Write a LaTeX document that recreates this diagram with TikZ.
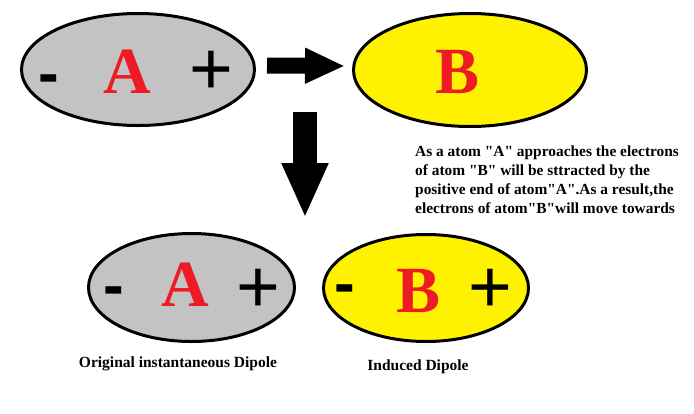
\documentclass[tikz,border=0pt]{standalone}
\usepackage{fontspec}
\setmainfont{Liberation Serif}
\newfontfamily\sansf{Liberation Sans}
\usetikzlibrary{shapes.geometric,arrows.meta}
\definecolor{atomgray}{RGB}{195,195,195}
\definecolor{atomyellow}{RGB}{255,242,0}
\definecolor{letterred}{RGB}{237,28,36}
\newcommand{\qq}{\textquotedbl}
\begin{document}
\begin{tikzpicture}[x=1pt,y=-1pt,
  atom/.style={ellipse, draw=black, line width=3pt, inner sep=0pt},
  letter/.style={anchor=base, inner sep=0pt, text=letterred, font=\fontsize{66}{66}\selectfont\bfseries},
  plussign/.style={anchor=base, inner sep=0pt, font=\sansf\fontsize{75}{75}\selectfont},
  minussign/.style={anchor=base, inner sep=0pt, font=\sansf\bfseries\fontsize{62}{62}\selectfont},
  captiontext/.style={anchor=base, inner sep=0pt, font=\fontsize{15.5}{19}\selectfont\bfseries},
  blockarrow/.style={line width=16pt, -{Triangle[width=33pt,length=40pt]}},
  downarrow/.style={line width=24pt, -{Triangle[width=43pt,length=55pt]}}
]
\useasboundingbox[fill=white] (0,0) rectangle (694,413);

% top row
\node[atom, fill=atomgray, minimum width=233pt, minimum height=112pt] (A1) at (138,69.5) {};
\node[atom, fill=atomyellow, minimum width=233pt, minimum height=113pt] (B1) at (470,70) {};
\node[minussign] (A1m) at (49,94) {-};
\node[letter] (A1l) at (127,93) {A};
\node[plussign] (A1p) at (211,94) {+};
\node[letter] (B1l) at (457.5,93) {B};

% arrows
\draw[blockarrow] ([xshift=11pt,yshift=4pt]A1.east) -- ([xshift=-7pt,yshift=4pt]B1.west);
\coordinate (d1) at (305,112);
\coordinate (d2) at (305,218);
\draw[downarrow] (d1) -- (d2);

% explanation
\node[anchor=north west, inner sep=0pt, align=left, font=\fontsize{15.4}{19}\selectfont\bfseries] (txt) at (415,145.5)
  {As a atom \qq A\qq{} approaches the electrons\\
   of atom \qq B\qq{} will be sttracted by the\\
   positive end of atom\qq A\qq.As a result,the\\
   electrons of atom\qq B\qq will move towards};

% bottom row
\node[atom, fill=atomgray, minimum width=206pt, minimum height=108pt] (A2) at (191.5,287.5) {};
\node[atom, fill=atomyellow, minimum width=205pt, minimum height=107pt] (B2) at (426,288) {};
\node[minussign] (A2m) at (114,306) {-};
\node[letter] (A2l) at (185.5,306) {A};
\node[plussign] (A2p) at (258.5,312) {+};
\node[minussign] (B2m) at (345,304) {-};
\node[letter] (B2l) at (418.5,312) {B};
\node[plussign] (B2p) at (490.5,312) {+};

\node[captiontext] (capA) at (178,367) {Original instantaneous Dipole};
\node[captiontext] (capB) at (418,370) {Induced Dipole};
\end{tikzpicture}
\end{document}
